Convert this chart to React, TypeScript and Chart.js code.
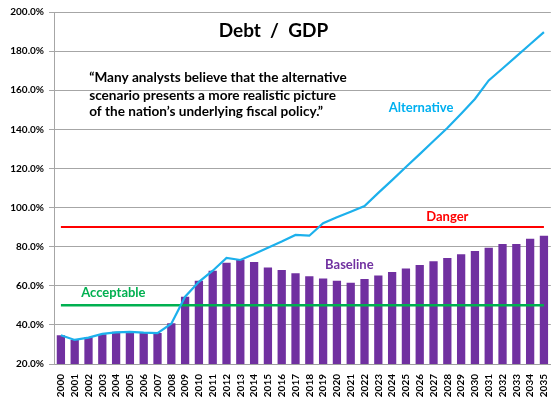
import React, { useEffect, useRef } from "react";
import { Chart, registerables } from "chart.js";

Chart.register(...registerables);

const years = [
  "2000", "2001", "2002", "2003", "2004", "2005", "2006", "2007", "2008", "2009",
  "2010", "2011", "2012", "2013", "2014", "2015", "2016", "2017", "2018", "2019",
  "2020", "2021", "2022", "2023", "2024", "2025", "2026", "2027", "2028", "2029",
  "2030", "2031", "2032", "2033", "2034", "2035",
];

const baseline = [
  34.7, 32.3, 33.7, 35.2, 36.5, 36.5, 36.0, 35.8, 40.8, 54.4,
  62.6, 67.7, 71.8, 73.5, 72.2, 69.3, 68.1, 66.4, 64.9, 63.7,
  62.6, 61.6, 63.5, 65.2, 67.1, 68.8, 70.6, 72.5, 74.2, 76.1,
  77.8, 79.5, 81.4, 81.4, 84.0, 85.6,
];

const alternative = [
  34.7, 32.3, 33.5, 35.4, 36.2, 36.4, 36.0, 35.8, 40.6, 54.4,
  62.0, 67.7, 74.2, 73.2, 76.3, 79.5, 82.6, 86.0, 85.6, 92.0,
  95.0, 97.9, 100.8, 107.5, 114.0, 120.7, 127.3, 134.0, 140.7, 148.0,
  155.5, 165.0, 171.1, 177.3, 183.5, 189.7,
];

const dangerLevel = 90;
const acceptableLevel = 50;

const yMin = 20;
const yMax = 200;
const yStep = 20;

const titleText = "Debt  /  GDP";
const quoteLines = [
  "\u201CMany analysts believe that the alternative",
  "scenario presents a more realistic picture",
  "of the nation\u2019s underlying fiscal policy.\u201D",
];

// notes anchored in data space: [text, x (category index), y (value), colour, size, align]
const notes: [string, number, number, string, number, CanvasTextAlign][] = [
  ["Danger", 28.0, 95.5, "#FF0000", 13, "center"],
  ["Acceptable", 3.8, 56.5, "#00B050", 13, "center"],
  ["Baseline", 20.9, 70.5, "#7030A0", 13, "center"],
  ["Alternative", 26.1, 151.0, "#00B0F0", 13, "center"],
];

const FONT = "Lato, 'Open Sans', sans-serif";

const textPlugin = {
  id: "textNotes",
  afterDatasetsDraw(chart: any) {
    const { ctx, scales } = chart;
    const xs = scales.x;
    const ys = scales.y;
    ctx.save();
    ctx.textBaseline = "middle";
    // title
    ctx.fillStyle = "#000";
    ctx.font = `bold 19px ${FONT}`;
    ctx.textAlign = "center";
    ctx.fillText(titleText, xs.getPixelForValue(15.4), ys.getPixelForValue(190.6));
    // quote
    ctx.font = `bold 13.6px ${FONT}`;
    ctx.textAlign = "left";
    const quoteY = [166.6, 157.4, 148.9];
    quoteLines.forEach((line, i) => {
      ctx.fillText(line, xs.getPixelForValue(2.05), ys.getPixelForValue(quoteY[i]));
    });
    notes.forEach(([text, x, y, color, size, align]) => {
      ctx.font = `bold ${size}px ${FONT}`;
      ctx.fillStyle = color;
      ctx.textAlign = align;
      ctx.fillText(text, xs.getPixelForValue(x), ys.getPixelForValue(y));
    });
    ctx.restore();
  },
};

export default function App() {
  const canvasRef = useRef<HTMLCanvasElement | null>(null);

  useEffect(() => {
    if (!canvasRef.current) return;
    const chart = new Chart(canvasRef.current, {
      type: "bar",
      data: {
        labels: years,
        datasets: [
          {
            type: "line",
            label: "Danger",
            data: years.map(() => dangerLevel),
            borderColor: "#FF0000",
            borderWidth: 2,
            pointRadius: 0,
            order: 1,
          },
          {
            type: "line",
            label: "Acceptable",
            data: years.map(() => acceptableLevel),
            borderColor: "#00B050",
            borderWidth: 2.5,
            pointRadius: 0,
            order: 1,
          },
          {
            type: "line",
            label: "Alternative",
            data: alternative,
            borderColor: "#1CB0EC",
            borderWidth: 2.2,
            pointRadius: 0,
            tension: 0,
            order: 0,
          },
          {
            type: "bar",
            label: "Baseline",
            data: baseline,
            backgroundColor: "#7030A0",
            barPercentage: 0.6,
            categoryPercentage: 1,
            order: 2,
          },
        ],
      },
      options: {
        animation: false,
        responsive: false,
        maintainAspectRatio: false,
        layout: { padding: { left: 0, right: 5, top: 12, bottom: 0 } },
        plugins: {
          legend: { display: false },
          tooltip: { enabled: false },
          title: { display: false },
        },
        scales: {
          x: {
            grid: { display: false },
            border: { color: "#A0A0A0" },
            ticks: {
              autoSkip: false,
              minRotation: 90,
              maxRotation: 90,
              padding: 2,
              color: "#000",
              font: { family: FONT, size: 10, weight: "bold" },
            },
            afterFit: (s: any) => {
              s.height = 33;
            },
          },
          y: {
            min: yMin,
            max: yMax,
            grid: { color: "#A6A6A6", tickLength: 5, lineWidth: 1 },
            border: { color: "#A6A6A6" },
            ticks: {
              stepSize: yStep,
              padding: 5,
              color: "#000",
              font: { family: FONT, size: 10, weight: "bold" },
              callback: (v: any) => Number(v).toFixed(1) + "%",
            },
            afterFit: (s: any) => {
              s.width = 54;
            },
          },
        },
      },
      plugins: [textPlugin],
    });
    return () => chart.destroy();
  }, []);

  return (
    <div style={{ position: "fixed", left: 0, top: 0, width: 558, height: 397, background: "#fff" }}>
      <canvas ref={canvasRef} width={558} height={397} style={{ width: 558, height: 397 }} />
    </div>
  );
}
